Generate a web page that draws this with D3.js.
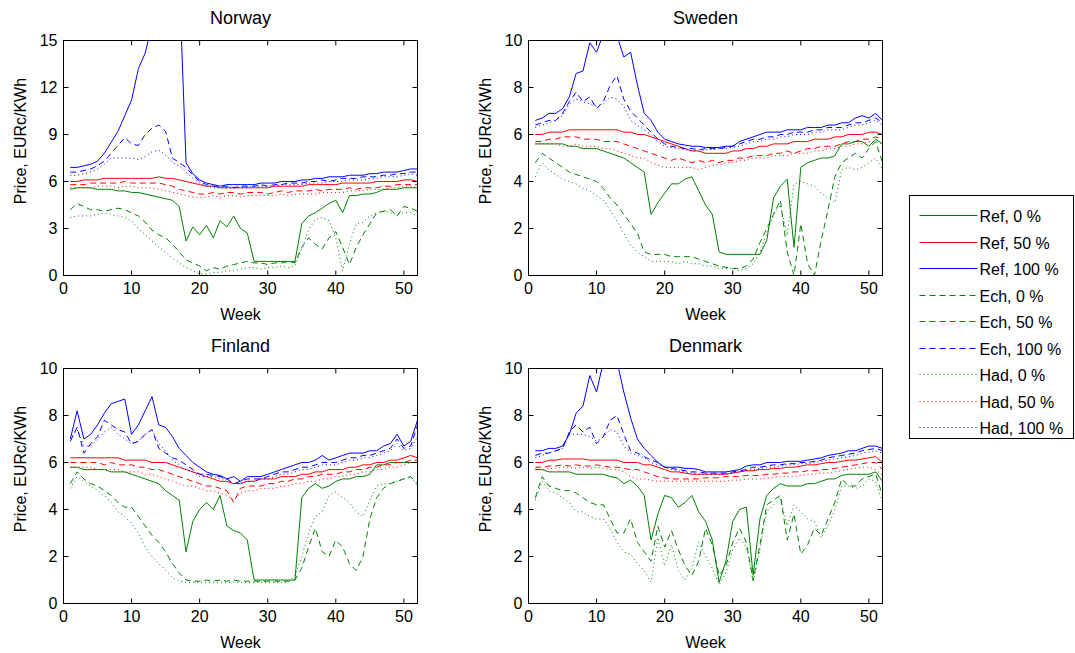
<!DOCTYPE html>
<html lang="en">
<head>
<meta charset="UTF-8">
<script src="https://cdn.jsdelivr.net/npm/d3@7"></script>
<title>Weekly prices</title>
<style>
    body { margin: 0; background: #fff; }
    text { font-family: "Liberation Sans", Arial, sans-serif; font-weight: normal; fill: #000; }
</style>
</head>
<body>
<div id="chart"></div>
<script>
// ---------------- data ----------------
const weeks = d3.range(1, 53);

const seriesNames = ["Ref, 0 %", "Ref, 50 %", "Ref, 100 %",
                     "Ech, 0 %", "Ech, 50 %", "Ech, 100 %",
                     "Had, 0 %", "Had, 50 %", "Had, 100 %"];
const seriesColors = ["#008000", "#ff0000", "#0000ff",
                      "#008000", "#ff0000", "#0000ff",
                      "#008000", "#ff0000", "#0000ff"];
const seriesDash = ["", "", "", "6,4", "6,4", "6,4", "1,3", "1,3", "1,3"];

// Norway
const no_ref0 = [5.5,5.6,5.6,5.6,5.5,5.5,5.5,5.4,5.4,5.3,5.3,5.2,5.1,5.0,4.9,4.8,4.4,2.2,3.1,2.6,3.2,2.4,3.5,3.1,3.8,3.0,2.7,0.9,0.9,0.9,0.9,0.9,0.9,0.9,3.3,3.8,4.0,4.3,4.6,4.8,4.0,5.1,5.1,5.2,5.2,5.3,5.5,5.5,5.5,5.6,5.6,5.6];
const no_ref50 = [6.0,6.0,6.1,6.1,6.1,6.2,6.2,6.2,6.2,6.2,6.2,6.2,6.2,6.3,6.2,6.2,6.1,6.0,5.9,5.8,5.7,5.7,5.6,5.6,5.6,5.6,5.6,5.6,5.6,5.6,5.7,5.7,5.7,5.7,5.7,5.8,5.8,5.8,5.8,5.8,5.9,5.9,5.9,5.9,5.9,6.0,6.0,6.0,6.0,6.1,6.1,6.0];
const no_ref100 = [6.9,6.9,7.0,7.1,7.3,7.8,8.5,9.2,10.2,11.2,13.2,14.2,16,18,19,19,19,7.2,6.5,6.1,5.9,5.8,5.7,5.8,5.8,5.8,5.8,5.8,5.9,5.9,5.9,6.0,6.0,6.0,6.1,6.1,6.2,6.2,6.3,6.3,6.3,6.4,6.4,6.4,6.5,6.5,6.6,6.6,6.6,6.7,6.8,6.8];
const no_ech0 = [4.2,4.6,4.4,4.2,4.2,4.1,4.2,4.3,4.2,4.0,3.8,3.4,2.9,2.6,2.4,2.0,1.5,1.0,0.8,0.6,0.3,0.5,0.4,0.6,0.7,0.8,0.9,0.8,0.8,0.7,0.8,0.8,0.9,0.8,1.8,2.4,2.0,1.7,2.4,2.8,1.8,0.7,1.8,2.6,3.3,4.0,4.1,4.2,3.8,4.4,4.3,4.1];
const no_ech50 = [5.8,5.8,5.8,5.9,5.9,5.9,5.9,5.9,6.0,5.9,5.9,5.9,5.9,5.9,5.8,5.7,5.5,5.4,5.3,5.2,5.2,5.3,5.2,5.3,5.3,5.2,5.3,5.3,5.3,5.2,5.3,5.4,5.3,5.4,5.4,5.4,5.5,5.4,5.5,5.5,5.5,5.6,5.5,5.6,5.6,5.6,5.7,5.7,5.8,5.8,5.8,5.8];
const no_ech100 = [6.6,6.6,6.7,6.8,7.0,7.3,7.8,8.3,8.8,8.4,8.3,9.0,9.4,9.6,9.2,7.5,7.2,6.9,6.4,6.0,5.8,5.7,5.7,5.7,5.6,5.7,5.7,5.7,5.8,5.7,5.8,5.8,5.9,5.9,5.9,6.0,6.0,6.1,6.0,6.1,6.2,6.2,6.2,6.3,6.3,6.3,6.4,6.4,6.5,6.5,6.6,6.6];
const no_had0 = [3.7,3.8,3.8,3.8,3.9,4.0,3.9,3.8,3.7,3.5,3.0,2.6,2.2,1.8,1.5,1.1,0.8,0.5,0.3,0.1,0.1,0.2,0.2,0.3,0.3,0.4,0.5,0.5,0.4,0.5,0.5,0.6,0.5,0.6,1.7,2.9,3.6,3.7,3.5,2.4,0.3,2.0,3.3,3.4,3.8,4.0,4.1,4.0,3.9,4.0,4.0,3.8];
const no_had50 = [5.6,5.6,5.6,5.6,5.7,5.7,5.7,5.6,5.7,5.7,5.6,5.6,5.6,5.5,5.4,5.3,5.2,5.1,5.0,5.0,5.0,5.1,5.0,5.1,5.1,5.0,5.1,5.1,5.1,5.1,5.1,5.2,5.1,5.2,5.2,5.2,5.2,5.3,5.3,5.3,5.3,5.4,5.4,5.4,5.5,5.5,5.5,5.6,5.6,5.7,5.7,5.6];
const no_had100 = [6.4,6.4,6.5,6.6,6.8,7.1,7.5,7.5,7.5,7.5,7.4,7.6,7.9,8.0,7.7,7.2,7.0,6.6,6.2,5.9,5.7,5.6,5.6,5.6,5.6,5.6,5.6,5.7,5.7,5.7,5.7,5.8,5.8,5.8,5.8,5.9,5.9,5.9,6.0,6.0,6.0,6.1,6.1,6.1,6.2,6.2,6.3,6.3,6.3,6.4,6.5,6.4];

// Sweden
const se_ref0 = [5.6,5.6,5.6,5.6,5.6,5.5,5.5,5.4,5.4,5.4,5.3,5.2,5.1,5.0,4.8,4.6,4.4,2.6,3.1,3.5,3.9,3.9,4.1,4.2,3.6,3.0,2.6,1.0,0.9,0.9,0.9,0.9,0.9,0.9,1.5,3.3,3.8,4.1,1.2,4.6,4.8,4.9,5.0,5.0,5.1,5.6,5.6,5.7,5.7,5.5,5.8,5.6];
const se_ref50 = [6.0,6.0,6.1,6.1,6.1,6.2,6.2,6.2,6.2,6.2,6.2,6.2,6.2,6.1,6.1,6.0,6.0,5.9,5.8,5.7,5.6,5.5,5.4,5.3,5.3,5.2,5.2,5.2,5.2,5.3,5.3,5.4,5.4,5.5,5.5,5.6,5.6,5.6,5.7,5.7,5.7,5.8,5.8,5.8,5.9,5.9,6.0,6.0,6.0,6.1,6.1,6.0];
const se_ref100 = [6.6,6.7,6.9,6.9,7.1,7.6,8.6,8.7,9.9,9.5,10.3,10.5,10.2,9.3,9.5,8.1,6.9,6.6,6.1,5.8,5.7,5.6,5.55,5.5,5.5,5.45,5.45,5.45,5.5,5.5,5.7,5.8,5.9,6.0,6.1,6.1,6.1,6.2,6.2,6.2,6.3,6.3,6.3,6.4,6.4,6.5,6.5,6.7,6.8,6.7,6.9,6.6];
const se_ech0 = [4.8,5.2,5.0,4.8,4.6,4.4,4.3,4.2,4.1,4.0,3.7,3.3,3.0,2.6,2.2,1.8,1.0,0.9,0.9,0.9,0.8,0.8,0.8,0.8,0.7,0.6,0.5,0.4,0.35,0.3,0.3,0.4,0.7,1.4,2.0,2.6,3.2,1.0,0.0,2.2,0.5,0.0,1.5,2.8,4.2,4.8,5.0,5.2,5.0,5.4,5.7,4.8];
const se_ech50 = [5.7,5.7,5.8,5.8,5.9,5.9,5.9,5.8,5.8,5.8,5.7,5.7,5.7,5.6,5.5,5.4,5.3,5.2,5.1,5.0,4.9,5.0,4.9,4.8,4.9,4.8,4.9,4.8,4.9,4.9,5.0,5.0,5.1,5.1,5.1,5.2,5.2,5.3,5.2,5.3,5.4,5.4,5.5,5.5,5.5,5.6,5.7,5.7,5.8,5.8,5.9,5.8];
const se_ech100 = [6.4,6.5,6.6,6.6,6.9,7.4,7.8,7.4,7.6,7.1,7.4,8.1,8.5,7.5,7.0,6.7,6.4,6.1,5.8,5.6,5.5,5.45,5.4,5.4,5.35,5.4,5.4,5.4,5.45,5.5,5.6,5.7,5.8,5.8,5.9,5.9,6.0,6.0,6.1,6.1,6.1,6.2,6.2,6.3,6.3,6.3,6.4,6.5,6.5,6.6,6.7,6.5];
const se_had0 = [4.2,4.8,4.5,4.3,4.1,4.0,3.9,3.7,3.6,3.4,3.2,2.8,2.3,1.8,1.3,1.0,0.8,0.6,0.6,0.6,0.6,0.5,0.6,0.5,0.5,0.4,0.4,0.3,0.3,0.3,0.2,0.3,0.5,1.0,1.8,2.6,3.0,1.7,3.9,4.0,3.9,3.8,3.5,3.3,3.1,4.5,4.6,4.5,4.6,4.8,5.0,4.5];
const se_had50 = [5.6,5.6,5.6,5.6,5.5,5.5,5.6,5.5,5.5,5.5,5.4,5.4,5.3,5.2,5.1,5.0,5.0,4.8,4.7,4.6,4.6,4.6,4.6,4.6,4.5,4.6,4.7,4.7,4.8,4.8,4.9,4.9,5.0,5.0,5.0,5.1,5.1,5.1,5.2,5.2,5.2,5.3,5.3,5.4,5.4,5.5,5.5,5.6,5.6,5.7,5.7,5.6];
const se_had100 = [6.3,6.4,6.5,6.6,6.8,7.3,7.5,7.4,7.3,7.2,7.3,7.6,7.5,7.2,6.6,6.4,6.2,6.0,5.7,5.5,5.45,5.4,5.35,5.3,5.3,5.35,5.35,5.4,5.4,5.45,5.5,5.6,5.7,5.7,5.8,5.8,5.9,5.9,6.0,6.0,6.0,6.1,6.1,6.2,6.2,6.2,6.3,6.4,6.4,6.5,6.6,6.4];

// Finland
const fi_ref0 = [5.8,5.8,5.7,5.7,5.7,5.7,5.6,5.6,5.6,5.5,5.4,5.3,5.2,5.1,4.8,4.6,4.4,2.2,3.5,4.0,4.3,4.0,4.6,3.3,3.1,3.0,2.7,1.0,1.0,1.0,1.0,1.0,1.0,1.0,4.5,4.9,5.1,4.9,5.0,5.2,5.3,5.3,5.4,5.4,5.5,5.9,5.9,6.0,6.0,6.0,6.0,6.0];
const fi_ref50 = [6.2,6.2,6.2,6.2,6.2,6.2,6.2,6.2,6.1,6.1,6.1,6.1,6.0,6.0,6.0,5.9,5.8,5.7,5.6,5.5,5.4,5.3,5.2,5.2,5.1,5.1,5.2,5.2,5.3,5.3,5.3,5.4,5.4,5.4,5.5,5.5,5.6,5.6,5.7,5.7,5.7,5.8,5.8,5.9,5.9,6.0,6.0,6.1,6.1,6.2,6.3,6.2];
const fi_ref100 = [7.0,8.2,7.0,7.2,7.6,8.1,8.5,8.6,8.7,7.2,7.6,8.2,8.8,7.6,7.5,7.1,6.6,6.3,6.0,5.8,5.6,5.5,5.45,5.3,5.4,5.2,5.4,5.4,5.4,5.5,5.6,5.7,5.8,5.9,6.0,6.0,6.1,6.3,6.1,6.2,6.3,6.4,6.4,6.4,6.5,6.5,6.7,6.8,7.2,6.7,6.9,7.8];
const fi_ech0 = [5.1,5.6,5.3,5.1,5.0,4.8,4.6,4.3,4.1,4.1,3.7,3.3,2.9,2.6,2.2,1.7,1.3,1.0,0.95,0.95,1.0,0.95,1.0,0.95,1.0,0.95,0.95,0.95,0.95,0.95,0.95,0.95,0.95,1.0,1.5,2.4,3.2,2.2,2.0,2.7,2.4,1.7,1.4,2.0,3.6,4.5,4.9,5.1,5.2,5.3,5.4,5.1];
const fi_ech50 = [6.0,6.0,6.0,6.0,6.0,5.9,6.0,5.9,5.9,5.9,5.8,5.8,5.7,5.7,5.6,5.5,5.4,5.3,5.2,5.1,5.0,5.0,4.9,4.8,4.3,4.9,5.0,5.0,5.0,5.1,5.1,5.2,5.2,5.3,5.3,5.4,5.4,5.5,5.5,5.5,5.6,5.6,5.7,5.7,5.8,5.8,5.9,5.9,6.0,6.0,6.1,6.1];
const fi_ech100 = [6.9,7.5,6.4,6.8,7.1,7.8,7.6,7.4,7.3,6.8,6.9,7.2,7.4,6.6,6.4,6.2,6.1,5.9,5.7,5.5,5.5,5.45,5.4,5.3,5.1,5.2,5.3,5.3,5.3,5.4,5.5,5.6,5.6,5.7,5.8,5.8,5.9,6.0,6.0,6.0,6.1,6.2,6.2,6.3,6.3,6.4,6.5,6.6,7.0,6.6,6.7,7.6];
const fi_had0 = [4.9,5.4,5.2,5.0,4.8,4.6,4.3,3.9,3.7,3.4,3.0,2.4,2.0,1.7,1.4,1.1,0.95,0.9,0.9,0.9,0.9,0.9,0.9,0.9,0.9,0.9,0.9,0.9,0.9,0.9,0.9,0.9,0.9,1.2,2.0,3.0,3.7,3.9,4.6,4.75,4.5,4.3,3.9,3.7,4.4,5.0,5.1,5.1,5.2,5.3,5.4,5.0];
const fi_had50 = [5.8,5.8,5.8,5.8,5.7,5.7,5.7,5.7,5.6,5.6,5.6,5.5,5.5,5.4,5.3,5.2,5.1,5.0,5.0,4.9,4.8,4.8,4.7,4.6,4.4,4.7,4.8,4.8,4.9,4.9,4.9,5.0,5.0,5.1,5.1,5.2,5.2,5.3,5.3,5.4,5.4,5.5,5.5,5.6,5.6,5.7,5.7,5.8,5.8,5.9,6.0,6.0];
const fi_had100 = [7.0,7.4,6.7,6.7,7.0,7.3,7.5,7.2,7.0,6.8,6.9,7.2,7.4,6.8,6.5,6.1,5.9,5.7,5.6,5.4,5.4,5.4,5.3,5.3,5.1,5.1,5.2,5.2,5.3,5.3,5.4,5.5,5.5,5.6,5.7,5.7,5.8,5.9,5.9,5.9,6.0,6.1,6.1,6.2,6.2,6.3,6.4,6.5,6.8,6.5,6.6,7.1];

// Denmark
const dk_ref0 = [5.7,5.7,5.6,5.6,5.6,5.6,5.5,5.5,5.5,5.5,5.5,5.4,5.35,5.1,5.25,5.0,4.6,2.7,3.8,4.6,4.5,4.1,4.3,4.6,3.9,3.5,2.7,0.9,1.8,3.5,4.0,4.1,1.2,3.6,4.6,4.9,5.1,5.0,5.0,5.0,5.1,5.1,5.2,5.3,5.3,5.45,5.5,5.5,5.5,5.5,5.6,5.2];
const dk_ref50 = [6.0,6.0,6.1,6.1,6.15,6.15,6.15,6.15,6.1,6.1,6.1,6.1,6.1,6.0,6.0,6.0,5.9,5.9,5.8,5.7,5.6,5.6,5.55,5.5,5.5,5.5,5.5,5.5,5.5,5.55,5.6,5.65,5.65,5.7,5.7,5.75,5.75,5.8,5.8,5.85,5.9,5.9,5.95,6.0,6.0,6.05,6.1,6.1,6.15,6.2,6.25,6.0];
const dk_ref100 = [6.5,6.5,6.6,6.6,6.7,7.2,8.1,8.4,9.7,9.0,10.3,10.8,10.3,9.0,7.9,7.0,6.6,6.3,6.0,5.8,5.8,5.8,5.75,5.75,5.7,5.6,5.6,5.6,5.6,5.65,5.7,5.85,5.9,5.9,6.0,6.0,6.0,6.05,6.05,6.05,6.1,6.15,6.2,6.3,6.35,6.4,6.5,6.5,6.6,6.7,6.7,6.6];
const dk_ech0 = [4.5,5.4,5.0,4.9,4.8,4.8,4.7,4.5,4.3,4.2,4.2,3.6,3.0,3.0,3.6,2.6,2.2,1.8,3.3,2.4,3.1,2.3,1.6,1.2,1.8,3.2,2.5,1.2,1.6,2.6,3.2,2.6,1.0,2.5,4.2,4.4,4.6,2.7,3.8,2.1,2.5,3.2,2.9,3.6,4.3,5.3,5.0,5.0,5.3,5.4,5.5,4.6];
const dk_ech50 = [5.8,5.8,5.85,5.85,5.9,5.85,5.9,5.85,5.85,5.9,5.85,5.8,5.8,5.75,5.7,5.7,5.6,5.5,5.4,5.35,5.3,5.3,5.3,5.3,5.3,5.35,5.35,5.35,5.4,5.4,5.4,5.45,5.45,5.45,5.5,5.5,5.55,5.55,5.6,5.6,5.65,5.65,5.7,5.7,5.75,5.8,5.85,5.9,5.95,6.0,6.0,5.7];
const dk_ech100 = [6.3,6.4,6.4,6.5,6.6,7.3,7.6,7.3,7.5,6.8,7.1,7.8,8.0,7.2,6.5,6.4,6.25,6.1,6.0,5.8,5.75,5.7,5.65,5.6,5.6,5.55,5.55,5.55,5.55,5.6,5.65,5.7,5.8,5.8,5.85,5.9,5.9,5.95,5.95,6.0,6.0,6.05,6.1,6.2,6.25,6.3,6.35,6.4,6.5,6.55,6.6,6.5];
const dk_had0 = [4.4,5.2,4.8,4.7,4.5,4.3,3.9,3.9,3.7,3.6,3.6,3.2,2.6,2.2,2.1,1.7,1.4,0.9,2.8,1.6,2.5,1.4,1.0,1.5,2.6,2.0,1.5,0.8,1.3,2.3,2.8,2.4,0.9,2.3,3.9,4.2,4.5,3.3,4.2,3.9,3.6,3.5,2.8,3.3,4.0,5.0,5.0,4.9,5.0,5.3,5.2,4.3];
const dk_had50 = [5.7,5.7,5.75,5.75,5.8,5.8,5.75,5.8,5.75,5.8,5.75,5.7,5.7,5.6,5.4,5.3,5.3,5.25,5.2,5.2,5.2,5.2,5.2,5.2,5.2,5.2,5.2,5.2,5.2,5.25,5.25,5.3,5.3,5.3,5.35,5.35,5.4,5.4,5.4,5.45,5.5,5.5,5.55,5.55,5.6,5.65,5.7,5.75,5.8,5.8,5.7,5.45];
const dk_had100 = [6.2,6.3,6.4,6.5,6.6,7.2,7.2,7.2,7.1,6.9,7.1,7.4,7.3,6.7,6.4,6.3,6.2,6.0,5.9,5.8,5.7,5.65,5.6,5.55,5.5,5.5,5.5,5.5,5.5,5.55,5.6,5.65,5.7,5.75,5.8,5.8,5.85,5.9,5.9,5.95,5.95,6.0,6.05,6.1,6.15,6.2,6.25,6.3,6.4,6.45,6.5,6.4];

const countryNames = ["Norway", "Sweden", "Finland", "Denmark"];
const yMaxes = [15, 10, 10, 10];
const yTickValues = [[0, 3, 6, 9, 12, 15], [0, 2, 4, 6, 8, 10], [0, 2, 4, 6, 8, 10], [0, 2, 4, 6, 8, 10]];
const xTickValues = [0, 10, 20, 30, 40, 50];

const countrySeries = [
    [no_ref0, no_ref50, no_ref100, no_ech0, no_ech50, no_ech100, no_had0, no_had50, no_had100],
    [se_ref0, se_ref50, se_ref100, se_ech0, se_ech50, se_ech100, se_had0, se_had50, se_had100],
    [fi_ref0, fi_ref50, fi_ref100, fi_ech0, fi_ech50, fi_ech100, fi_had0, fi_had50, fi_had100],
    [dk_ref0, dk_ref50, dk_ref100, dk_ech0, dk_ech50, dk_ech100, dk_had0, dk_had50, dk_had100]
];

// ---------------- layout ----------------
const W = 1075, H = 653;
const plotW = 354, plotH = 235;
// +0.5 so that 1px frame and ticks land on whole pixels
const panelPos = [{x: 63.5, y: 40.5}, {x: 528.5, y: 40.5}, {x: 63.5, y: 368.5}, {x: 528.5, y: 368.5}];

const svg = d3.select("#chart").append("svg")
    .attr("width", W)
    .attr("height", H)
    .style("display", "block");

svg.append("rect").attr("width", W).attr("height", H).attr("fill", "#fff");

const x = d3.scaleLinear().domain([0, 52]).range([0, plotW]);

countryNames.forEach((name, ci) => {
    const pos = panelPos[ci];
    const y = d3.scaleLinear().domain([0, yMaxes[ci]]).range([plotH, 0]);
    const g = svg.append("g").attr("transform", `translate(${pos.x},${pos.y})`);

    g.append("clipPath").attr("id", "clip" + ci)
        .append("rect").attr("width", plotW).attr("height", plotH);

    // lines
    const line = d3.line()
        .x((d, i) => x(weeks[i]))
        .y(d => y(d));

    const lines = g.append("g").attr("clip-path", `url(#clip${ci})`);
    countrySeries[ci].forEach((vals, si) => {
        lines.append("path")
            .datum(vals)
            .attr("d", line)
            .attr("fill", "none")
            .attr("stroke", seriesColors[si])
            .attr("stroke-width", 1)
            .attr("stroke-dasharray", seriesDash[si] || null);
    });

    // axes (MATLAB style: ticks pointing inward, box all round)
    const xb = g.append("g").attr("transform", `translate(0,${plotH})`)
        .call(d3.axisBottom(x).tickValues(xTickValues).tickSize(-5).tickPadding(7).offset(0));
    const xt = g.append("g")
        .call(d3.axisTop(x).tickValues(xTickValues).tickSize(-5).tickFormat("").offset(0));
    const yl = g.append("g")
        .call(d3.axisLeft(y).tickValues(yTickValues[ci]).tickSize(-5).tickPadding(6).offset(0));
    const yr = g.append("g").attr("transform", `translate(${plotW},0)`)
        .call(d3.axisRight(y).tickValues(yTickValues[ci]).tickSize(-5).tickFormat("").offset(0));

    [xb, xt, yl, yr].forEach(a => {
        a.select(".domain").remove();
        a.selectAll(".tick line").attr("stroke", "#000");
        a.selectAll("text").style("font-size", "16px")
            .style("font-family", "'Liberation Sans', Arial, sans-serif");
    });

    g.append("rect")
        .attr("width", plotW).attr("height", plotH)
        .attr("fill", "none").attr("stroke", "#000").attr("stroke-width", 1);

    // title & labels
    g.append("text")
        .attr("x", plotW / 2).attr("y", -17)
        .attr("text-anchor", "middle")
        .style("font-size", "18px")
        .text(name);

    g.append("text")
        .attr("x", plotW / 2).attr("y", plotH + 44)
        .attr("text-anchor", "middle")
        .style("font-size", "16px")
        .text("Week");

    g.append("text")
        .attr("transform", `translate(-38,${plotH / 2 - 17}) rotate(-90)`)
        .attr("text-anchor", "middle")
        .style("font-size", "16px")
        .text("Price, EURc/KWh");
});

// ---------------- legend ----------------
const legend = svg.append("g").attr("transform", "translate(909.5,195.5)");
legend.append("rect")
    .attr("width", 164).attr("height", 243)
    .attr("fill", "#fff").attr("stroke", "#000").attr("stroke-width", 1);

seriesNames.forEach((s, i) => {
    const ly = Math.round(20 + i * 26.5);
    legend.append("line")
        .attr("x1", 10).attr("x2", 68)
        .attr("y1", ly).attr("y2", ly)
        .attr("stroke", seriesColors[i])
        .attr("stroke-width", 1)
        .attr("stroke-dasharray", seriesDash[i] || null);
    legend.append("text")
        .attr("x", 70).attr("y", ly + 6)
        .style("font-size", "16px")
        .text(s);
});
</script>
</body>
</html>
